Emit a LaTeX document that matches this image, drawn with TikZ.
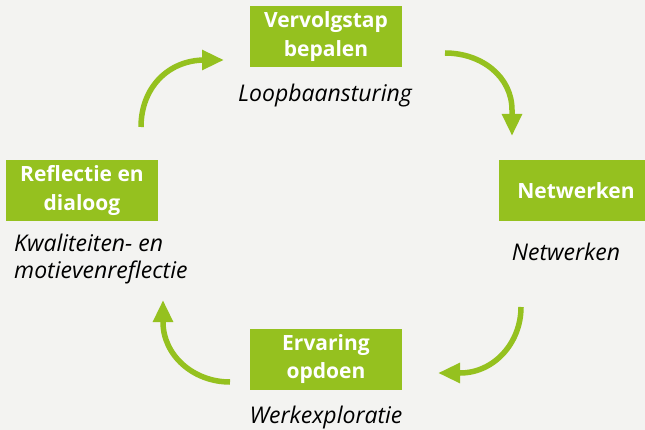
\documentclass[tikz,border=0pt]{standalone}
\usepackage{fontspec}
\setmainfont{Open Sans}
\usetikzlibrary{arrows.meta}
\definecolor{bggray}{HTML}{F3F3F1}
\definecolor{stepgreen}{HTML}{95C11F}
\tikzset{
  stepbox/.style={fill=stepgreen, text=white, font=\fontsize{21}{28.5}\selectfont\bfseries, align=center, inner sep=0pt, minimum width=152pt, minimum height=61pt},
  lbl/.style={font=\fontsize{23}{27}\selectfont\itshape, text=black, inner sep=0pt},
  cyc/.style={draw=stepgreen, line width=5.5pt, -{Triangle[length=22pt,width=19pt]}}
}
\begin{document}
\begin{tikzpicture}[x=1pt,y=-1pt]
\useasboundingbox (0,0) rectangle (645,430);
\fill[bggray] (0,0) rectangle (645,430);
\clip (0,0) rectangle (645,430);
\node[stepbox] (top) at (326,36.5) {Vervolgstap\\bepalen};
\node[stepbox, minimum width=154pt] (right) at (576,190.5) {Netwerken};
\node[stepbox] (left) at (82,190.5) {Reflectie en\\dialoog};
\node[stepbox] (bottom) at (326,359) {Ervaring\\opdoen};
\node[lbl] (ltop) at (325,96) {Loopbaansturing};
\node[lbl] (lright) at (566,252) {Netwerken};
\node[lbl, align=left, anchor=west] (lleft) at (14,259.5) {Kwaliteiten- en\\motievenreflectie};
\node[lbl] (lbottom) at (326,418) {Werkexploratie};
\coordinate (a1s) at (141,127);
\coordinate (a1e) at (224,60);
\coordinate (a2s) at (445,53);
\coordinate (a2e) at (512,136);
\coordinate (a3s) at (521,307);
\coordinate (a3e) at (438,373);
\coordinate (a4s) at (230,382);
\coordinate (a4e) at (163,300);
\draw[cyc] (a1s) .. controls (141,88) and (168,60) .. (205,60) -- (a1e);
\draw[cyc] (a2s) .. controls (482,53) and (512,77) .. (512,110) -- (a2e);
\draw[cyc] (a3s) .. controls (521,343) and (494,373) .. (460,373) -- (a3e);
\draw[cyc] (a4s) .. controls (193,382) and (163,355) .. (163,322) -- (a4e);
\end{tikzpicture}
\end{document}
